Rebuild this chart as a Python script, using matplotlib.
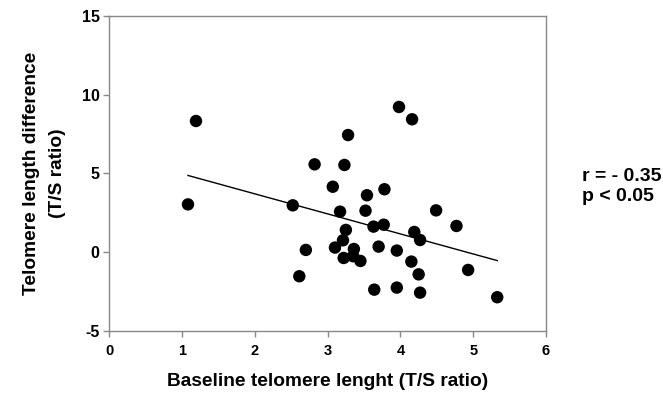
import numpy as np
import matplotlib
matplotlib.use("Agg")
import matplotlib.pyplot as plt

plt.rcParams['font.family'] = ['Liberation Sans', 'DejaVu Sans']
plt.rcParams['axes.unicode_minus'] = False

# baseline telomere length (T/S ratio) and length difference (T/S ratio)
baseline = [1.08, 1.19, 2.52, 2.61, 2.70, 2.82, 3.07, 3.10, 3.17, 3.21,
            3.22, 3.23, 3.25, 3.28, 3.36, 3.35, 3.45, 3.52, 3.54, 3.63,
            3.64, 3.70, 3.77, 3.78, 3.95, 3.95, 3.98, 4.15, 4.16, 4.19,
            4.25, 4.27, 4.27, 4.49, 4.77, 4.93, 5.33]
difference = [3.04, 8.33, 2.98, -1.52, 0.15, 5.58, 4.16, 0.30, 2.58, 0.76,
              -0.36, 5.54, 1.42, 7.44, 0.21, -0.25, -0.55, 2.64, 3.62, 1.63,
              -2.37, 0.36, 1.75, 4.00, 0.11, -2.24, 9.22, -0.59, 8.44, 1.29,
              -1.40, 0.78, -2.56, 2.66, 1.67, -1.12, -2.85]

x = np.array(baseline)
y = np.array(difference)

fig = plt.figure(figsize=(6.63, 3.97), dpi=100)
ax = fig.add_axes([0.165, 0.166, 0.6585, 0.794])

ax.scatter(x, y, s=80, c='black', edgecolors='none', zorder=3)

# regression line
slope, intercept = np.polyfit(x, y, 1)
xl = np.array([x.min(), x.max()])
ax.plot(xl, slope * xl + intercept, color='black', lw=1.0, zorder=2)

ax.set_xlim(0, 6)
ax.set_ylim(-5, 15)
ax.set_xticks(range(0, 7))
ax.set_yticks(range(-5, 16, 5))

for side in ['left', 'bottom', 'top', 'right']:
    ax.spines[side].set_color('#888888')
    ax.spines[side].set_linewidth(1.0)

ax.tick_params(direction='out', length=4, width=1, color='#888888', pad=5)
ax.tick_params(axis='x', labelsize=10.5)
ax.tick_params(axis='y', labelsize=11.5, pad=3)
for lab in ax.get_xticklabels() + ax.get_yticklabels():
    lab.set_fontweight('bold')

ax.set_xlabel('Baseline telomere lenght (T/S ratio)', fontsize=13.8,
              fontweight='bold', labelpad=11)
ax.set_ylabel('Telomere length difference\n(T/S ratio)', fontsize=13.8,
              fontweight='bold', labelpad=11, linespacing=1.7)

fig.text(0.878, 0.531, 'r = - 0.35\np < 0.05', fontsize=14, fontweight='bold',
         ha='left', va='center', linespacing=1.25)

fig.savefig('out.png', dpi=100)
